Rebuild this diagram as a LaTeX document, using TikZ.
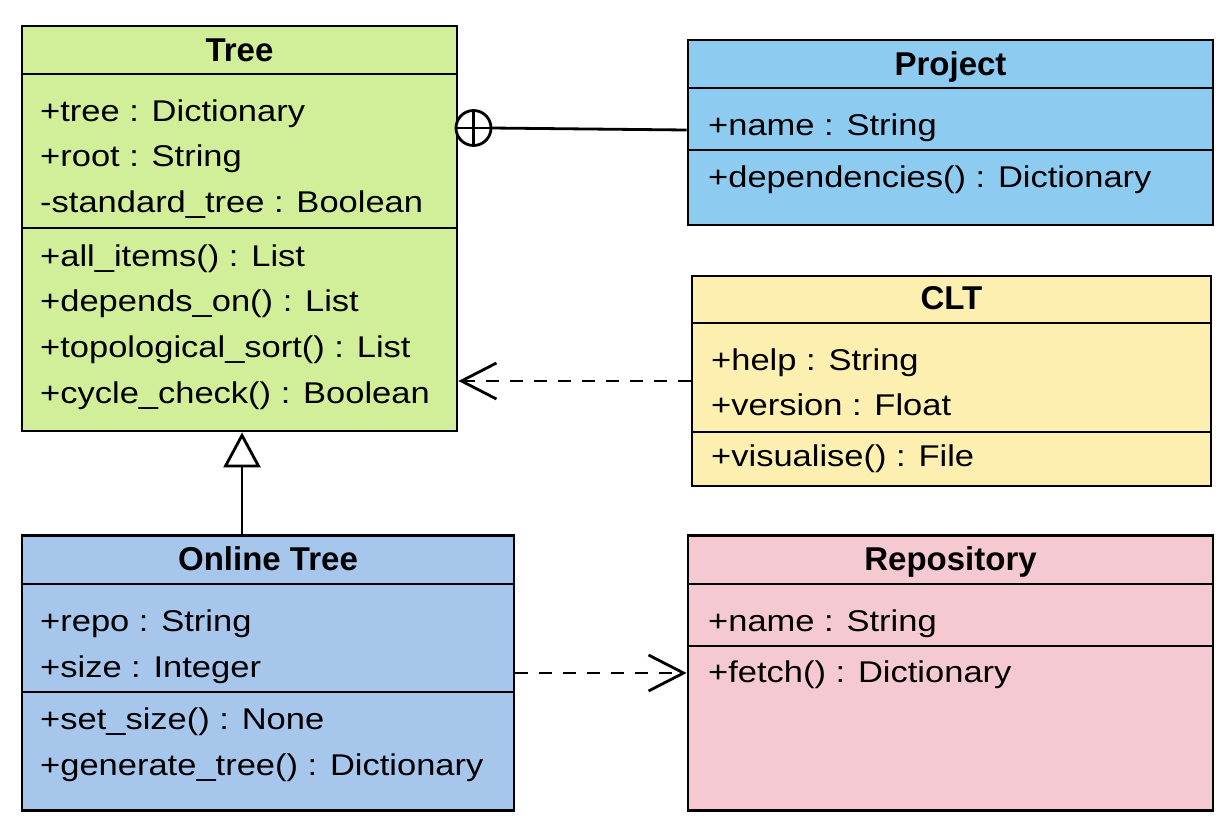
\documentclass[tikz,border=0pt]{standalone}
\usepackage{fontspec}
\setmainfont{Liberation Sans}
\newfontfamily\bodyfont{Liberation Sans}[FakeStretch=1.15]
\usetikzlibrary{arrows.meta}
\definecolor{treegreen}{HTML}{D1EE98}
\definecolor{projblue}{HTML}{8ECBF0}
\definecolor{cltyellow}{HTML}{FCEFAF}
\definecolor{onlineblue}{HTML}{A7C6EC}
\definecolor{repopink}{HTML}{F5C9D1}
\tikzset{
  classbox/.style={draw=black, line width=2.8pt, rectangle, inner sep=0pt},
  divider/.style={draw=black, line width=2.8pt},
  body/.style={font=\bodyfont\fontsize{30}{35}\selectfont, inner sep=0pt, anchor=base west},
  ctitle/.style={font=\fontsize{33}{40}\selectfont\bfseries, inner sep=0pt, anchor=base},
  conn/.style={draw=black, line width=2.8pt},
  depend/.style={conn, dash pattern=on 13pt off 11pt, -{Straight Barb[length=35pt, width=36pt, line width=2.8pt]}},
  inherit/.style={conn, -{Triangle[open, length=35pt, width=37pt, line width=2.8pt, fill=white]}},
}
\begin{document}
\begin{tikzpicture}[x=1pt, y=-1pt]
\useasboundingbox[fill=white] (0,0) rectangle (1232,836);

% ---------- Tree ----------
\node[classbox, fill=treegreen, minimum width=435pt, minimum height=405pt] (tree) at (239.5,228.5) {};
\draw[divider] (tree.west |- 0,74) -- (tree.east |- 0,74);
\draw[divider] (tree.west |- 0,228) -- (tree.east |- 0,228);
\node[ctitle] (tree-t) at (239.5,61) {Tree};
\node[body] (tree-a1) at (40,121) {+tree : Dictionary};
\node[body] (tree-a2) at (40,166) {+root : String};
\node[body] (tree-a3) at (40,212) {-standard\_tree : Boolean};
\node[body] (tree-m1) at (40,266) {+all\_items() : List};
\node[body] (tree-m2) at (40,311) {+depends\_on() : List};
\node[body] (tree-m3) at (40,357) {+topological\_sort() : List};
\node[body] (tree-m4) at (40,403) {+cycle\_check() : Boolean};

% ---------- Project ----------
\node[classbox, fill=projblue, minimum width=525pt, minimum height=185pt] (project) at (950.5,132.5) {};
\draw[divider] (project.west |- 0,88) -- (project.east |- 0,88);
\draw[divider] (project.west |- 0,150) -- (project.east |- 0,150);
\node[ctitle] (project-t) at (950.5,75) {Project};
\node[body] (project-a1) at (708,135) {+name : String};
\node[body] (project-m1) at (708,187) {+dependencies() : Dictionary};

% ---------- CLT ----------
\node[classbox, fill=cltyellow, minimum width=519pt, minimum height=210pt] (clt) at (951.5,381) {};
\draw[divider] (clt.west |- 0,323) -- (clt.east |- 0,323);
\draw[divider] (clt.west |- 0,432) -- (clt.east |- 0,432);
\node[ctitle] (clt-t) at (951.5,309) {CLT};
\node[body] (clt-a1) at (711,370) {+help : String};
\node[body] (clt-a2) at (711,415) {+version : Float};
\node[body] (clt-m1) at (711,466) {+visualise() : File};

% ---------- Online Tree ----------
\node[classbox, fill=onlineblue, minimum width=492pt, minimum height=275pt] (online) at (268,673) {};
\draw[divider] (online.west |- 0,584) -- (online.east |- 0,584);
\draw[divider] (online.west |- 0,692) -- (online.east |- 0,692);
\node[ctitle] (online-t) at (268,570) {Online Tree};
\node[body] (online-a1) at (40,631) {+repo : String};
\node[body] (online-a2) at (40,677) {+size : Integer};
\node[body] (online-m1) at (40,729) {+set\_size() : None};
\node[body] (online-m2) at (40,775) {+generate\_tree() : Dictionary};

% ---------- Repository ----------
\node[classbox, fill=repopink, minimum width=525pt, minimum height=275pt] (repo) at (950.5,673) {};
\draw[divider] (repo.west |- 0,584) -- (repo.east |- 0,584);
\draw[divider] (repo.west |- 0,646) -- (repo.east |- 0,646);
\node[ctitle] (repo-t) at (950.5,570) {Repository};
\node[body] (repo-a1) at (708,631) {+name : String};
\node[body] (repo-m1) at (708,682) {+fetch() : Dictionary};

% ---------- Connectors ----------
% nesting (circle-plus) Tree -- Project
\node[circle, draw=black, line width=2.8pt, fill=white, minimum size=35pt, inner sep=0pt, outer sep=0pt] (nest) at (473.5,128) {};
\draw[conn] (nest.north) -- (nest.south);
\draw[conn] (nest.west) -- (nest.east);
\draw[conn] (nest.east) -- ([yshift=2.5pt]project.west);

% dependency CLT -> Tree
\draw[depend] (clt.west) -- (clt.west -| tree.east);

% dependency Online Tree -> Repository
\draw[depend] (online.east) -- (repo.west);

% generalisation Online Tree -> Tree
\draw[inherit] ([xshift=-26pt]online.north) -- ([xshift=-26pt]online.north |- tree.south);
\end{tikzpicture}
\end{document}
